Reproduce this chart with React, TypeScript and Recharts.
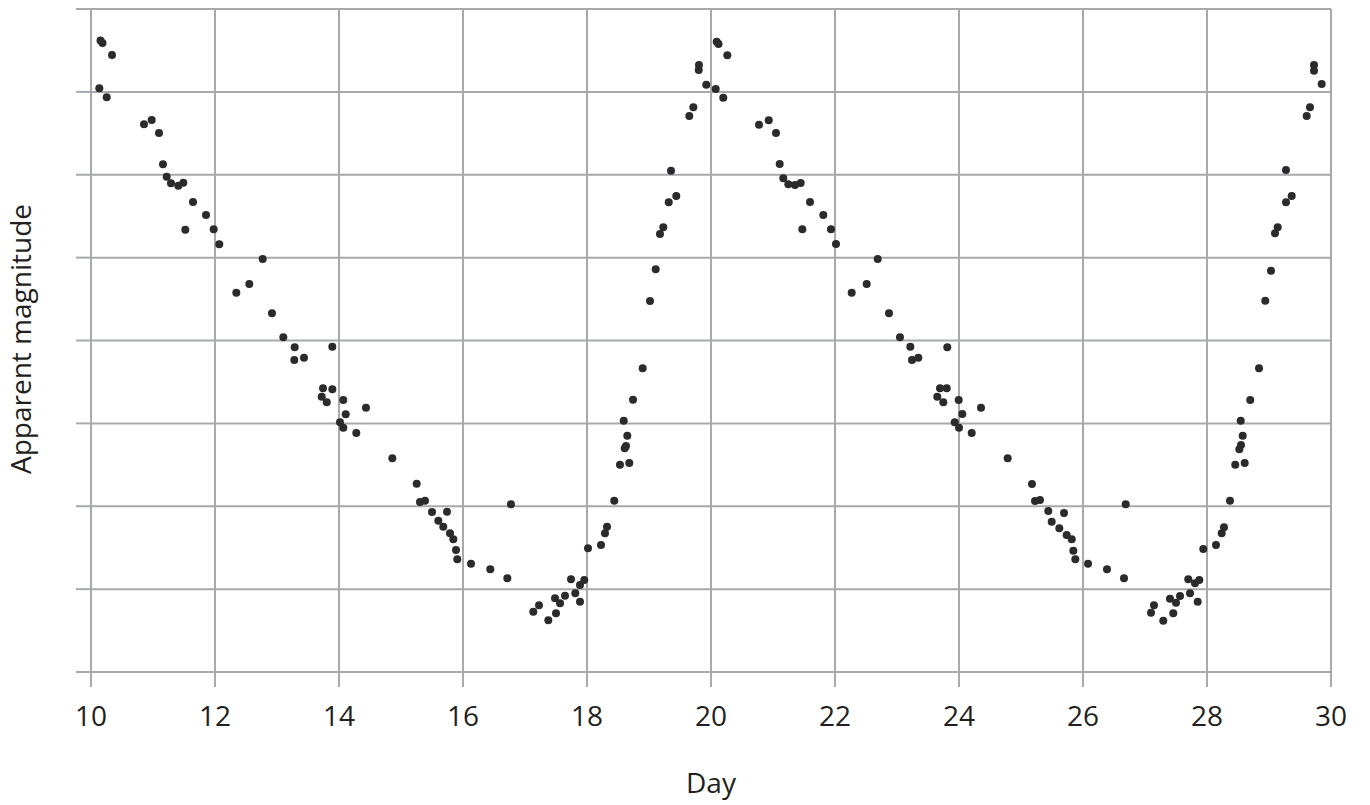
import React from "react";
import {
  ScatterChart,
  Scatter,
  XAxis,
  YAxis,
  CartesianGrid,
} from "recharts";

// day of observation, first cycle (10 - 20)
const cycleOneDays = [
  10.153, 10.185, 10.339, 10.134, 10.253, 10.855, 10.979, 11.097, 11.161, 11.221,
  11.29, 11.408, 11.489, 11.645, 11.855, 11.521, 11.979, 12.069, 12.769, 12.344,
  12.553, 12.919, 13.102, 13.285, 13.279, 13.435, 13.892, 13.742, 13.892, 13.721,
  13.802, 14.069, 14.108, 14.435, 14.016, 14.069, 14.279, 14.86, 15.253, 15.306,
  15.387, 15.5, 15.742, 15.602, 15.682, 15.79, 15.844, 15.887, 15.908, 16.129,
  16.44, 16.715, 16.774, 17.134, 17.226, 17.376, 17.5, 17.484, 17.565, 17.645,
  17.742, 17.811, 17.887, 17.887, 17.956, 18.016, 18.226, 18.29, 18.323, 18.44,
  18.532, 18.682, 18.608, 18.629, 18.65, 18.592, 18.742, 18.898, 19.016, 19.108,
  19.177, 19.231, 19.318, 19.44, 19.355, 19.65, 19.715, 19.806, 19.802, 19.924,
];

// brightness in grid units (0 = bottom line, 8 = top line)
const cycleOneMags = [
  7.62, 7.59, 7.445, 7.043, 6.934, 6.609, 6.661, 6.504, 6.126, 5.977,
  5.897, 5.868, 5.904, 5.671, 5.514, 5.337, 5.342, 5.161, 4.983, 4.577,
  4.682, 4.328, 4.039, 3.918, 3.765, 3.792, 3.925, 3.423, 3.411, 3.322,
  3.254, 3.282, 3.11, 3.189, 3.013, 2.948, 2.884, 2.579, 2.272, 2.051,
  2.067, 1.931, 1.934, 1.826, 1.753, 1.674, 1.601, 1.472, 1.36, 1.307,
  1.239, 1.131, 2.024, 0.728, 0.805, 0.624, 0.708, 0.889, 0.829, 0.921,
  1.119, 0.95, 0.848, 1.05, 1.11, 1.493, 1.532, 1.674, 1.753, 2.067,
  2.501, 2.522, 2.699, 2.727, 2.851, 3.032, 3.286, 3.665, 4.477, 4.859,
  5.285, 5.366, 5.668, 5.744, 6.049, 6.709, 6.814, 7.324, 7.264, 7.087,
];

// second cycle (20 - 30)
const cycleTwoDays = [
  20.092, 20.121, 20.263, 20.076, 20.198, 20.774, 20.931, 21.048, 21.108, 21.166,
  21.247, 21.355, 21.447, 21.597, 21.811, 21.473, 21.935, 22.016, 22.269, 22.511,
  22.689, 22.871, 23.048, 23.215, 23.242, 23.344, 23.811, 23.694, 23.802, 23.65,
  23.747, 23.995, 24.053, 24.355, 23.931, 24.0, 24.205, 24.785, 25.177, 25.226,
  25.306, 25.44, 25.694, 25.495, 25.618, 25.737, 25.818, 25.844, 25.876, 26.081,
  26.387, 26.661, 26.689, 27.097, 27.145, 27.295, 27.403, 27.456, 27.5, 27.565,
  27.698, 27.726, 27.85, 27.806, 27.876, 27.94, 28.145, 28.237, 28.274, 28.371,
  28.456, 28.608, 28.521, 28.548, 28.576, 28.544, 28.698, 28.839, 28.94, 29.032,
  29.097, 29.14, 29.274, 29.366, 29.274, 29.608, 29.661, 29.726, 29.726, 29.85,
];

const cycleTwoMags = [
  7.605, 7.578, 7.441, 7.035, 6.93, 6.604, 6.657, 6.504, 6.13, 5.957,
  5.885, 5.876, 5.9, 5.671, 5.514, 5.342, 5.342, 5.164, 4.577, 4.682,
  4.983, 4.328, 4.039, 3.925, 3.765, 3.792, 3.918, 3.423, 3.423, 3.322,
  3.254, 3.282, 3.113, 3.189, 3.013, 2.948, 2.884, 2.579, 2.268, 2.063,
  2.075, 1.943, 1.919, 1.814, 1.734, 1.653, 1.601, 1.464, 1.36, 1.307,
  1.239, 1.131, 2.024, 0.716, 0.805, 0.619, 0.884, 0.708, 0.836, 0.917,
  1.119, 0.95, 0.848, 1.07, 1.11, 1.484, 1.532, 1.674, 1.746, 2.067,
  2.501, 2.522, 2.687, 2.739, 2.851, 3.032, 3.282, 3.665, 4.48, 4.842,
  5.293, 5.366, 5.668, 5.744, 6.057, 6.709, 6.814, 7.324, 7.256, 7.095,
];

const dayTicks = [10, 12, 14, 16, 18, 20, 22, 24, 26, 28, 30];
const magTicks = [0, 1, 2, 3, 4, 5, 6, 7, 8];

const observations = [
  ...cycleOneDays.map((d, i) => ({ day: d, mag: cycleOneMags[i] })),
  ...cycleTwoDays.map((d, i) => ({ day: d, mag: cycleTwoMags[i] })),
];

const GRID = "#a7a9ac";
const INK = "#231f20";
const FONT = "'Open Sans', sans-serif";

const Dot = (props: any) => (
  <circle cx={props.cx} cy={props.cy} r={4} fill="#2b2b2b" />
);

const YTitle = () => (
  <text
    x={0}
    y={0}
    transform="translate(31 339) rotate(-90)"
    textAnchor="middle"
    fontFamily={FONT}
    fontSize={28}
    fill={INK}
  >
    Apparent magnitude
  </text>
);

const XTitle = () => (
  <text
    x={711}
    y={793}
    textAnchor="middle"
    fontFamily={FONT}
    fontSize={28}
    fill={INK}
  >
    Day
  </text>
);

export default function App() {
  return (
    <div style={{ position: "absolute", left: 0, top: 0, background: "#fff" }}>
      <ScatterChart
        width={1370}
        height={805}
        margin={{ top: 9, right: 39, bottom: 0, left: 0 }}
      >
        <CartesianGrid stroke={GRID} strokeWidth={2} />
        <XAxis
          type="number"
          dataKey="day"
          domain={[10, 30]}
          ticks={dayTicks}
          height={133}
          tickSize={15}
          tickMargin={19}
          axisLine={{ stroke: GRID, strokeWidth: 2 }}
          tickLine={{ stroke: GRID, strokeWidth: 2 }}
          tick={{ fill: INK, fontSize: 28, fontFamily: FONT }}
          label={<XTitle />}
        />
        <YAxis
          type="number"
          dataKey="mag"
          domain={[0, 8]}
          ticks={magTicks}
          width={91}
          tickSize={15}
          tickFormatter={() => ""}
          axisLine={{ stroke: GRID, strokeWidth: 2 }}
          tickLine={{ stroke: GRID, strokeWidth: 2 }}
          label={<YTitle />}
        />
        <Scatter
          data={observations}
          shape={Dot}
          isAnimationActive={false}
        />
      </ScatterChart>
    </div>
  );
}
